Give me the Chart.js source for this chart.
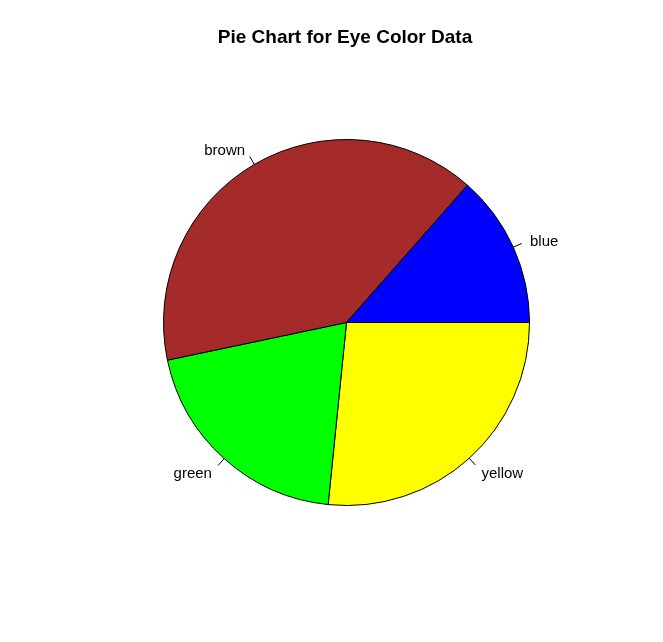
<!DOCTYPE html>
<html><head><meta charset="utf-8">
<script src="https://cdn.jsdelivr.net/npm/chart.js@4/dist/chart.umd.min.js"></script>
<style>html,body{margin:0;padding:0;background:#fff}#wrap{width:663px;height:642px}</style>
</head><body><div id="wrap"><canvas id="c" width="663" height="642"></canvas></div>
<script>
// R draws counter-clockwise from 3 o'clock: blue, brown, green, yellow.
const categories = ["blue", "brown", "green", "yellow"];
const values = [13.5, 39.8, 20.1, 26.6];
const sliceColors = ["#0000FF", "#A52A2A", "#00FF00", "#FFFF00"];
const titleText = "Pie Chart for Eye Color Data";

// Chart.js draws clockwise, so reverse order to mimic R's counter-clockwise layout
const labelsCW = categories.slice().reverse();
const valuesCW = values.slice().reverse();
const colorsCW = sliceColors.slice().reverse();

const labelPlugin = {
  id: 'rlabels',
  afterDraw(chart) {
    const ctx = chart.ctx;
    const meta = chart.getDatasetMeta(0);
    ctx.save();
    ctx.font = '15px "Liberation Sans", Arial, sans-serif';
    ctx.fillStyle = '#000';
    ctx.strokeStyle = '#000';
    ctx.lineWidth = 1;
    meta.data.forEach((arc, i) => {
      const mid = (arc.startAngle + arc.endAngle) / 2;
      const r = arc.outerRadius;
      const cx = arc.x, cy = arc.y;
      const c = Math.cos(mid), s = Math.sin(mid);
      ctx.beginPath();
      ctx.moveTo(cx + r * c, cy + r * s);
      ctx.lineTo(cx + r * 1.05 * c, cy + r * 1.05 * s);
      ctx.stroke();
      ctx.textAlign = c > 0 ? 'left' : 'right';
      ctx.textBaseline = 'middle';
      ctx.fillText(chart.data.labels[i], cx + r * 1.1 * c, cy + r * 1.1 * s + 2);
    });
    ctx.font = 'bold 19px "Liberation Sans", Arial, sans-serif';
    ctx.textAlign = 'center';
    ctx.textBaseline = 'middle';
    ctx.fillText(titleText, 345, 38);
    ctx.restore();
  }
};

new Chart(document.getElementById('c'), {
  type: 'pie',
  data: {
    labels: labelsCW,
    datasets: [{
      data: valuesCW,
      backgroundColor: colorsCW,
      borderColor: '#000',
      borderWidth: 1,
      hoverOffset: 0
    }]
  },
  options: {
    responsive: false,
    animation: false,
    rotation: 90,
    events: [],
    layout: { padding: { left: 163, right: 133, top: 139, bottom: 136 } },
    plugins: { legend: { display: false }, tooltip: { enabled: false }, title: { display: false } }
  },
  plugins: [labelPlugin]
});
</script></body></html>
